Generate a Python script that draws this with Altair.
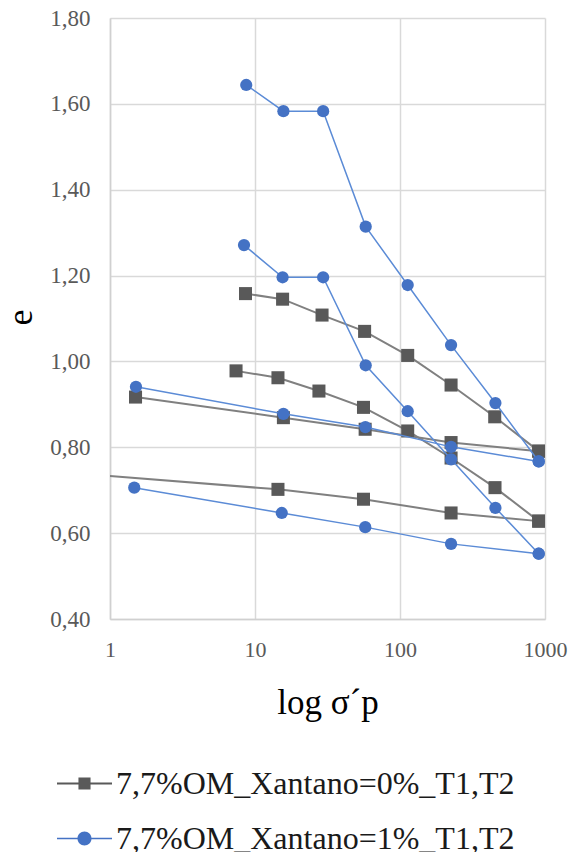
import altair as alt
import pandas as pd

SERIES = ["7,7%OM_Xantano=0%_T1,T2", "7,7%OM_Xantano=1%_T1,T2"]

# --- Xantano 0 % (grey squares): four loading/unloading curves -------------
g1_sigma = [8.6, 15.5, 29, 57, 113, 225, 450, 905]
g1_e = [1.158, 1.145, 1.108, 1.070, 1.014, 0.945, 0.871, 0.791]

g2_sigma = [7.4, 14.4, 27.6, 56, 113, 225, 452, 905]
g2_e = [0.978, 0.962, 0.931, 0.893, 0.838, 0.775, 0.706, 0.628]

g3_sigma = [1.5, 15.7, 57.5, 225, 905]
g3_e = [0.917, 0.869, 0.842, 0.811, 0.791]

g4_sigma = [0.7, 14.4, 56, 225, 905]
g4_e = [0.737, 0.702, 0.679, 0.647, 0.628]

# --- Xantano 1 % (blue circles) ---------------------------------------------
b1_sigma = [8.7, 15.7, 29.5, 58, 113, 225, 455, 905]
b1_e = [1.644, 1.583, 1.583, 1.314, 1.178, 1.038, 0.903, 0.767]

b2_sigma = [8.4, 15.5, 29.5, 58, 113, 225, 455, 905]
b2_e = [1.271, 1.196, 1.196, 0.991, 0.884, 0.772, 0.659, 0.552]

b3_sigma = [1.51, 15.7, 57.7, 225, 905]
b3_e = [0.941, 0.878, 0.847, 0.801, 0.767]

b4_sigma = [1.47, 15.3, 57.6, 225, 905]
b4_e = [0.706, 0.647, 0.614, 0.575, 0.552]

X_TICKS = [1, 10, 100, 1000]
Y_TICKS = [0.4, 0.6, 0.8, 1.0, 1.2, 1.4, 1.6, 1.8]

MARKER_COLORS = ["#595959", "#4472c4"]
LINE_COLORS = ["#808080", "#5b8bd6"]

SERIF = "Liberation Serif"

# legend glyphs: a short line with the marker in its middle
LEGEND_SQUARE = ("M-1,-0.036L1,-0.036L1,0.036L-1,0.036Z"
                 "M-0.22,-0.22L0.22,-0.22L0.22,0.22L-0.22,0.22Z")
LEGEND_CIRCLE = ("M-1,-0.03L1,-0.03L1,0.03L-1,0.03Z"
                 "M0.255,0A0.255,0.255 0 1,1 -0.255,0A0.255,0.255 0 1,1 0.255,0Z")

rows = []
for series, curves in [
    (SERIES[0], [(g1_sigma, g1_e), (g2_sigma, g2_e), (g3_sigma, g3_e), (g4_sigma, g4_e)]),
    (SERIES[1], [(b1_sigma, b1_e), (b2_sigma, b2_e), (b3_sigma, b3_e), (b4_sigma, b4_e)]),
]:
    for i, (sig, e) in enumerate(curves):
        for s, v in zip(sig, e):
            rows.append({"series": series, "curve": f"{series}-{i}", "sigma": s, "e": v})
df = pd.DataFrame(rows)

x_enc = alt.X(
    "sigma:Q",
    scale=alt.Scale(type="log", domain=[1, 1000]),
    axis=alt.Axis(
        values=X_TICKS, format="d", ticks=False, labelPadding=20, labelFlush=False,
        labelFont=SERIF, labelFontSize=22, labelColor="#595959",
        title="log σ´p", titleY=94, titleBaseline="alphabetic",
        titleFont=SERIF, titleFontSize=35,
    ),
)
y_enc = alt.Y(
    "e:Q",
    scale=alt.Scale(domain=[0.4, 1.8], nice=False, zero=False),
    axis=alt.Axis(
        values=Y_TICKS, ticks=False, labelPadding=20,
        labelFont=SERIF, labelFontSize=23, labelColor="#595959",
        labelExpr="replace(format(datum.value, '.2f'), '.', ',')",
        title="e", titleX=-90, titleY=299, titleAlign="center",
        titleBaseline="middle", titleAngle=270,
        titleFont=SERIF, titleFontSize=36,
    ),
)

base = alt.Chart(df).encode(x=x_enc, y=y_enc)


def series_layers(name, shape, size, line_color, marker_color, width):
    sub = base.transform_filter(alt.datum.series == name)
    line = sub.mark_line(clip=True, color=line_color, strokeWidth=width).encode(
        detail="curve:N", order="sigma:Q"
    )
    pts = sub.mark_point(
        clip=True, filled=True, shape=shape, size=size, color=marker_color, opacity=1
    )
    return [line, pts]


legend = alt.Legend(
    title=None, orient="none", legendX=-53, legendY=738, direction="vertical",
    labelFont=SERIF, labelFontSize=32, labelColor="#1a1a1a", labelLimit=0,
    symbolSize=3025, symbolStrokeWidth=0, symbolOpacity=1, labelOffset=4,
    rowPadding=11,
)

# invisible layer that only carries the legend
legend_layer = base.mark_point(filled=True, opacity=0, clip=True).encode(
    color=alt.Color("series:N", scale=alt.Scale(domain=SERIES, range=MARKER_COLORS), legend=legend),
    shape=alt.Shape("series:N", scale=alt.Scale(domain=SERIES, range=[LEGEND_SQUARE, LEGEND_CIRCLE]), legend=legend),
)

chart = alt.layer(
    *series_layers(SERIES[0], "square", 170, LINE_COLORS[0], MARKER_COLORS[0], 2),
    *series_layers(SERIES[1], "circle", 150, LINE_COLORS[1], MARKER_COLORS[1], 1.5),
    legend_layer,
).properties(
    width=435, height=601,
    autosize=alt.AutoSizeParams(type="none"),
    padding={"left": 110, "top": 18, "right": 24, "bottom": 233},
    background="white",
).configure_view(
    stroke=None
).configure_axis(
    titleColor="#000000", titleFontWeight="normal",
    gridColor="#d9d9d9", gridWidth=1.5, domainColor="#d0d0d0", domainWidth=1.5,
)

chart.save("out.html", embed_options={"renderer": "svg", "actions": False})
